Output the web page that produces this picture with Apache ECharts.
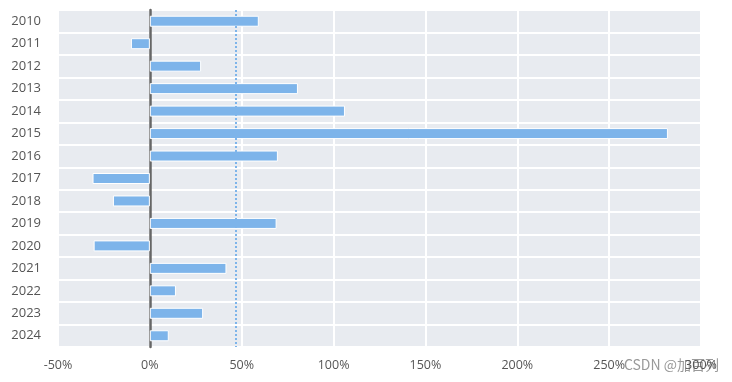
<!DOCTYPE html>
<html><head><meta charset="utf-8">
<script src="https://cdn.jsdelivr.net/npm/echarts@6/dist/echarts.min.js"></script>
<style>html,body{margin:0;padding:0;background:#fff}#c{width:732px;height:382px}</style>
</head><body><div id="c"></div>
<script>
var years = ['2010','2011','2012','2013','2014','2015','2016','2017','2018','2019','2020','2021','2022','2023','2024'];
var growth = [59.3, -10.3, 27.9, 80.6, 106.2, 282.0, 69.7, -31.2, -20.1, 69.0, -30.6, 41.7, 14.2, 29.0, 10.3];
var xTicks = { min: -50, max: 300, interval: 50 };
var watermark = 'CSDN @加百列';

var chart = echarts.init(document.getElementById('c'));
chart.setOption({
  animation: false,
  grid: { left: 58, right: 31, top: 10, bottom: 35, show: true, backgroundColor: '#e8ebf0', borderWidth: 0 },
  xAxis: {
    type: 'value', min: xTicks.min, max: xTicks.max, interval: xTicks.interval,
    axisLine: { show: false }, axisTick: { show: false },
    axisLabel: { formatter: '{value}%', color: '#555', fontSize: 12.5, margin: 12, fontFamily: 'Open Sans' },
    splitLine: { show: true, lineStyle: { color: '#ffffff', width: 2 } }
  },
  yAxis: {
    type: 'category', data: years, inverse: true,
    axisLine: { show: true, onZero: true, lineStyle: { color: '#666', width: 2.5 } },
    axisTick: { show: false },
    axisLabel: { color: '#555', fontSize: 13, margin: 17, fontFamily: 'Open Sans' },
    splitLine: { show: true, lineStyle: { color: '#ffffff', width: 2 } }
  },
  series: [{
    type: 'bar', data: growth, barWidth: 11,
    itemStyle: { color: '#7db4ea', borderColor: '#ffffff', borderWidth: 1 },
    markLine: {
      symbol: 'none', silent: true, label: { show: false },
      lineStyle: { color: '#7db4ea', type: [2, 2], width: 2 },
      data: [{ type: 'average', valueDim: 'x' }]
    }
  }],
  graphic: [{
    type: 'text', right: 13, top: 358,
    style: { text: watermark, fill: '#999', font: '14px "Noto Sans CJK SC", sans-serif' }
  }]
});
</script></body></html>
